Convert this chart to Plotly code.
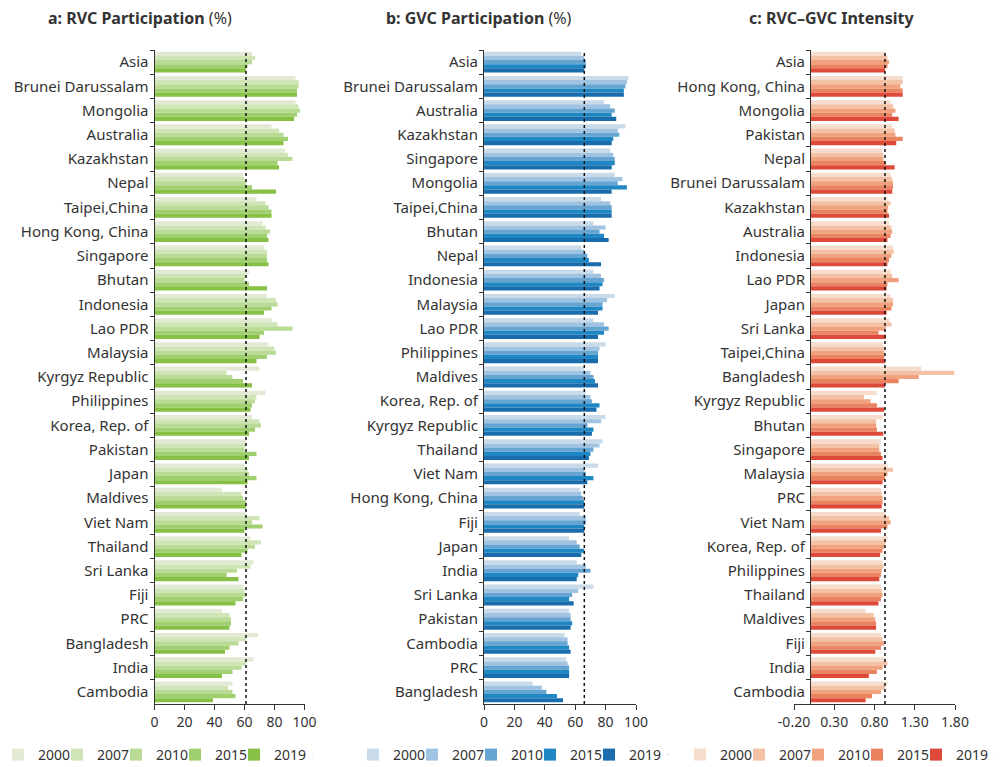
import plotly.graph_objects as go

years = ["2000", "2007", "2010", "2015", "2019"]

# ---- Panel a: RVC participation (%) ----
rvc_categories = ["Asia", "Brunei Darussalam", "Mongolia", "Australia", "Kazakhstan", "Nepal",
                  "Taipei,China", "Hong Kong, China", "Singapore", "Bhutan", "Indonesia", "Lao PDR",
                  "Malaysia", "Kyrgyz Republic", "Philippines", "Korea, Rep. of", "Pakistan", "Japan",
                  "Maldives", "Viet Nam", "Thailand", "Sri Lanka", "Fiji", "PRC", "Bangladesh",
                  "India", "Cambodia"]
rvc_2000 = [65, 94, 94, 78, 87, 59, 68, 72, 73, 63, 75, 78, 76, 70, 74, 65, 61, 60, 45, 61, 64, 66, 59, 45, 69, 66, 52]
rvc_2007 = [67, 96, 96, 83, 89, 60, 74, 74, 75, 61, 81, 82, 80, 48, 68, 70, 61, 62, 58, 70, 71, 64, 60, 50, 61, 61, 49]
rvc_2010 = [65, 96, 97, 86, 92, 61, 76, 77, 75, 60, 82, 92, 81, 52, 67, 71, 60, 63, 59, 65, 67, 55, 61, 51, 56, 58, 52]
rvc_2015 = [62, 95, 95, 89, 82, 65, 78, 75, 75, 63, 78, 73, 75, 59, 65, 67, 68, 68, 61, 72, 62, 48, 59, 51, 50, 52, 54]
rvc_2019 = [61, 95, 93, 86, 83, 81, 78, 76, 76, 75, 73, 70, 68, 65, 64, 63, 63, 62, 61, 60, 58, 56, 54, 50, 47, 45, 39]

# ---- Panel b: GVC participation (%) ----
gvc_categories = ["Asia", "Brunei Darussalam", "Australia", "Kazakhstan", "Singapore", "Mongolia",
                  "Taipei,China", "Bhutan", "Nepal", "Indonesia", "Malaysia", "Lao PDR", "Philippines",
                  "Maldives", "Korea, Rep. of", "Kyrgyz Republic", "Thailand", "Viet Nam",
                  "Hong Kong, China", "Fiji", "Japan", "India", "Sri Lanka", "Pakistan", "Cambodia",
                  "PRC", "Bangladesh"]
gvc_2000 = [64, 95, 79, 93, 83, 86, 77, 72, 64, 72, 86, 72, 80, 66, 67, 80, 78, 75, 63, 63, 56, 61, 72, 56, 53, 54, 32]
gvc_2007 = [66, 94, 83, 88, 85, 91, 83, 80, 66, 77, 81, 79, 76, 70, 70, 77, 76, 66, 64, 67, 61, 67, 62, 57, 55, 55, 38]
gvc_2010 = [67, 93, 86, 89, 86, 88, 84, 76, 68, 79, 78, 82, 75, 72, 71, 68, 72, 67, 65, 67, 63, 70, 58, 57, 55, 56, 41]
gvc_2015 = [67, 92, 84, 85, 86, 94, 84, 79, 69, 78, 78, 79, 75, 73, 76, 72, 70, 72, 66, 66, 66, 62, 56, 58, 56, 56, 48]
gvc_2019 = [66, 92, 87, 84, 84, 84, 84, 82, 77, 76, 75, 75, 75, 75, 74, 71, 69, 68, 66, 66, 64, 61, 59, 57, 57, 56, 52]

# ---- Panel c: RVC-GVC intensity ----
int_categories = ["Asia", "Hong Kong, China", "Mongolia", "Pakistan", "Nepal", "Brunei Darussalam",
                  "Kazakhstan", "Australia", "Indonesia", "Lao PDR", "Japan", "Sri Lanka",
                  "Taipei,China", "Bangladesh", "Kyrgyz Republic", "Bhutan", "Singapore", "Malaysia",
                  "PRC", "Viet Nam", "Korea, Rep. of", "Philippines", "Thailand", "Maldives", "Fiji",
                  "India", "Cambodia"]
int_2000 = [0.94, 1.15, 1.00, 1.02, 0.90, 1.00, 0.96, 0.98, 1.03, 1.00, 1.00, 0.98, 0.90, 1.38, 0.83, 0.90, 0.88, 0.96, 0.88, 0.94, 0.96, 0.90, 0.88, 0.69, 0.88, 0.94, 0.96]
int_2007 = [0.96, 1.15, 1.03, 1.05, 0.91, 1.02, 1.00, 1.01, 1.04, 1.02, 1.03, 1.01, 0.92, 1.79, 0.67, 0.82, 0.86, 1.03, 0.89, 0.98, 0.94, 0.91, 0.89, 0.79, 0.90, 0.96, 0.93]
int_2010 = [0.98, 1.12, 1.06, 1.06, 0.91, 1.03, 0.97, 1.02, 1.01, 1.10, 1.03, 0.94, 0.92, 1.35, 0.75, 0.82, 0.86, 0.96, 0.90, 1.00, 0.92, 0.89, 0.90, 0.81, 0.92, 0.90, 0.88]
int_2015 = [0.96, 1.15, 1.02, 1.15, 0.94, 1.03, 0.96, 1.00, 0.98, 0.96, 1.01, 0.85, 0.92, 1.10, 0.83, 0.83, 0.88, 0.93, 0.90, 0.96, 0.90, 0.88, 0.88, 0.82, 0.88, 0.83, 0.77]
int_2019 = [0.93, 1.15, 1.10, 1.07, 1.05, 1.02, 0.98, 0.96, 0.96, 0.95, 0.95, 0.94, 0.93, 0.93, 0.92, 0.91, 0.90, 0.90, 0.89, 0.88, 0.87, 0.86, 0.85, 0.82, 0.81, 0.73, 0.69]

pct_ticks = [0, 20, 40, 60, 80, 100]
int_ticks = [-0.2, 0.3, 0.8, 1.3, 1.8]
int_tick_labels = ["-0.20", "0.30", "0.80", "1.30", "1.80"]

green_colors = ["#e2e9d4", "#d0e5b6", "#b9db95", "#a0cf70", "#86c044"]
blue_colors = ["#c9dae8", "#9fc3e0", "#66a4d1", "#1f88c4", "#1a6dad"]
orange_colors = ["#f6dccd", "#f3c1a4", "#efa27d", "#ea8460", "#de4a39"]

titles = ["<b>a: RVC Participation</b> (%)", "<b>b: GVC Participation</b> (%)", "<b>c: RVC\u2013GVC Intensity</b>"]

# page body has an 8px default margin; lay out in screen pixels and convert
OFF = 8
W, H = 1008 - OFF, 767 - OFF
FONT = "Noto Sans"
TXT = "#333333"


def px_x(x):
    return (x - OFF) / W


def px_y(y):
    return (H - (y - OFF)) / H


panels = [
    dict(cats=rvc_categories, series=[rvc_2000, rvc_2007, rvc_2010, rvc_2015, rvc_2019],
         colors=green_colors, xa="x", ya="y", leg="legend",
         px=(154.5, 304.5), rng=[0, 100], zero_px=154.5, title_x=140, leg_x=-2),
    dict(cats=gvc_categories, series=[gvc_2000, gvc_2007, gvc_2010, gvc_2015, gvc_2019],
         colors=blue_colors, xa="x2", ya="y2", leg="legend2",
         px=(484, 636), rng=[0, 100], zero_px=484, title_x=479, leg_x=353),
    dict(cats=int_categories, series=[int_2000, int_2007, int_2010, int_2015, int_2019],
         colors=orange_colors, xa="x3", ya="y3", leg="legend3",
         px=(794, 955), rng=[-0.2, 1.8], zero_px=810, title_x=831, leg_x=680),
]

ydom = [px_y(704), px_y(50)]

fig = go.Figure()
layout = dict(
    width=W, height=H, margin=dict(l=0, r=0, t=0, b=0, autoexpand=False),
    paper_bgcolor="white", plot_bgcolor="white",
    barmode="group", bargap=0.14, bargroupgap=0,
    font=dict(family=FONT, size=14, color=TXT),
    shapes=[], annotations=[],
)

for i, p in enumerate(panels):
    sfx = "" if i == 0 else str(i + 1)
    for yr, vals, col in zip(years, p["series"], p["colors"]):
        fig.add_trace(go.Bar(
            y=p["cats"], x=vals, orientation="h", name=yr,
            marker=dict(color=col, line=dict(width=0)),
            xaxis=p["xa"], yaxis=p["ya"], legend=p["leg"],
            hovertemplate="%{y}: %{x}<extra>" + yr + "</extra>",
        ))
    # blank spacer entry so the last legend label is not clipped
    fig.add_trace(go.Scatter(x=[None], y=[None], mode="markers", name=" ",
                             marker=dict(opacity=0, size=1), xaxis=p["xa"], yaxis=p["ya"],
                             legend=p["leg"], hoverinfo="skip"))
    n = len(p["cats"])
    xdom = [px_x(p["px"][0]), px_x(p["px"][1])]
    xaxis = dict(domain=xdom, range=p["rng"], anchor=p["ya"], showgrid=False, zeroline=False,
                 showline=True, linecolor="#333333", linewidth=1, ticks="outside", ticklen=5,
                 tickcolor="#333333", tickfont=dict(size=14, color=TXT), automargin=False,
                 tickangle=0)
    if i < 2:
        xaxis.update(tickvals=pct_ticks)
    else:
        xaxis.update(tickvals=int_ticks, ticktext=int_tick_labels)
    yaxis = dict(domain=ydom, type="category", categoryorder="array", categoryarray=p["cats"],
                 range=[n - 0.5, -0.5], showgrid=False,
                 zeroline=False, showline=True, linecolor="#333333", linewidth=1,
                 ticks="outside", ticklen=4, tickcolor="#333333", tickson="boundaries",
                 tickfont=dict(size=15, color=TXT), ticklabelstandoff=2, automargin=False)
    if i == 2:
        yaxis.update(anchor="free", position=px_x(p["zero_px"]))
    else:
        yaxis.update(anchor=p["xa"])
    layout["xaxis" + sfx] = xaxis
    layout["yaxis" + sfx] = yaxis

    # dotted reference line at Asia's 2019 value
    asia_val = p["series"][-1][0]
    layout["shapes"].append(dict(type="line", xref=p["xa"], yref="paper",
                                 x0=asia_val, x1=asia_val, y0=ydom[0], y1=ydom[1],
                                 line=dict(color="#111111", width=1.5, dash="dot")))
    layout["annotations"].append(dict(text=titles[i], x=px_x(p["title_x"]), y=px_y(18),
                                      xref="paper", yref="paper", showarrow=False,
                                      xanchor="center", yanchor="middle",
                                      font=dict(size=16, color=TXT)))
    layout[p["leg"]] = dict(orientation="h", x=px_x(p["leg_x"]), y=-4 / H,
                            xanchor="left", yanchor="bottom", bgcolor="rgba(0,0,0,0)",
                            font=dict(size=14, color=TXT), entrywidth=14, entrywidthmode="pixels",
                            itemwidth=30, tracegroupgap=0)

fig.update_layout(**layout)
fig.write_html("out.html")
